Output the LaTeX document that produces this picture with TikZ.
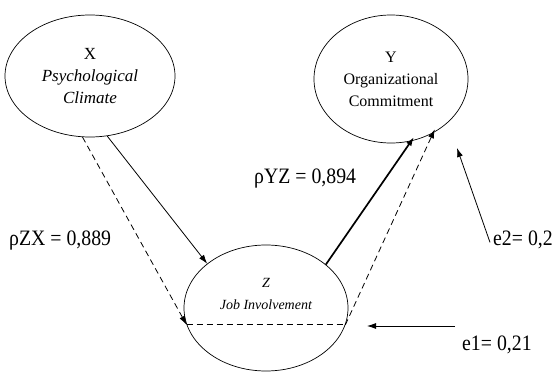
\documentclass[tikz,border=0pt]{standalone}
\usepackage{fontspec}
\setmainfont{Liberation Serif}
\newfontfamily\coeffont[FakeStretch=0.9]{Liberation Serif}
\usetikzlibrary{shapes.geometric,arrows.meta}

\begin{document}
\begin{tikzpicture}[
        x=1pt, y=-1pt,
        latent_var/.style={ellipse, draw=black, line width=0.7pt, inner sep=0pt, align=center, font=\fontsize{16}{22}\selectfont},
        coef/.style={font=\coeffont\fontsize{22}{24}\selectfont, inner sep=0pt},
        path_arrow/.style={-{Latex[length=9pt,width=6pt]}, line width=0.8pt},
        strong_arrow/.style={path_arrow, line width=1.7pt},
        dashed_arrow/.style={path_arrow, dash pattern=on 6pt off 4pt}
    ]
    \useasboundingbox (0,0) rectangle (555,372);

    % Latent variables
    \node[latent_var, minimum width=170pt, minimum height=122pt, font=\fontsize{17}{22}\selectfont] (x) at (90,76) {X\\\textit{Psychological}\\\textit{Climate}};
    \node[latent_var, minimum width=154pt, minimum height=128pt] (y) at (391,79) {Y\\Organizational\\Commitment};
    \node[latent_var, minimum width=164pt, minimum height=126pt,
          label={[align=center, yshift=14pt, font=\fontsize{14}{22}\selectfont]center:\textit{Z}\\\textit{Job Involvement}}] (z) at (266,308) {};

    % Path coefficients and residuals
    \node[coef, anchor=base west] (pzx) at (9,245) {ρZX = 0,889};
    \node[coef, anchor=base west] (pyz) at (254,183) {ρYZ = 0,894};
    \node[coef, anchor=base west] (e2) at (493,245) {e2= 0,2};
    \node[coef, anchor=base west] (e1) at (462,350) {e1= 0,21};

    \coordinate (e2tip) at (457,148);
    \coordinate (e1start) at (455,326);
    \coordinate (e1tip) at (367,326);

    % Direct paths
    \draw[path_arrow] (x.-74) -- (z.143);
    \draw[strong_arrow, shorten >=-5pt] (z.36) -- (y.-72);

    % Indirect path through Z
    \draw[dashed_arrow] (x.-97) -- (z.192);
    \draw[dash pattern=on 6pt off 4pt, line width=0.8pt] (z.192) -- (z.-12);
    \draw[dashed_arrow, shorten >=-4pt] (z.-12) -- (y.-52);

    % Error terms
    \draw[path_arrow] ([yshift=-3pt,xshift=-3pt]e2.west) -- (e2tip);
    \draw[path_arrow] (e1start) -- (e1tip);

\end{tikzpicture}
\end{document}
